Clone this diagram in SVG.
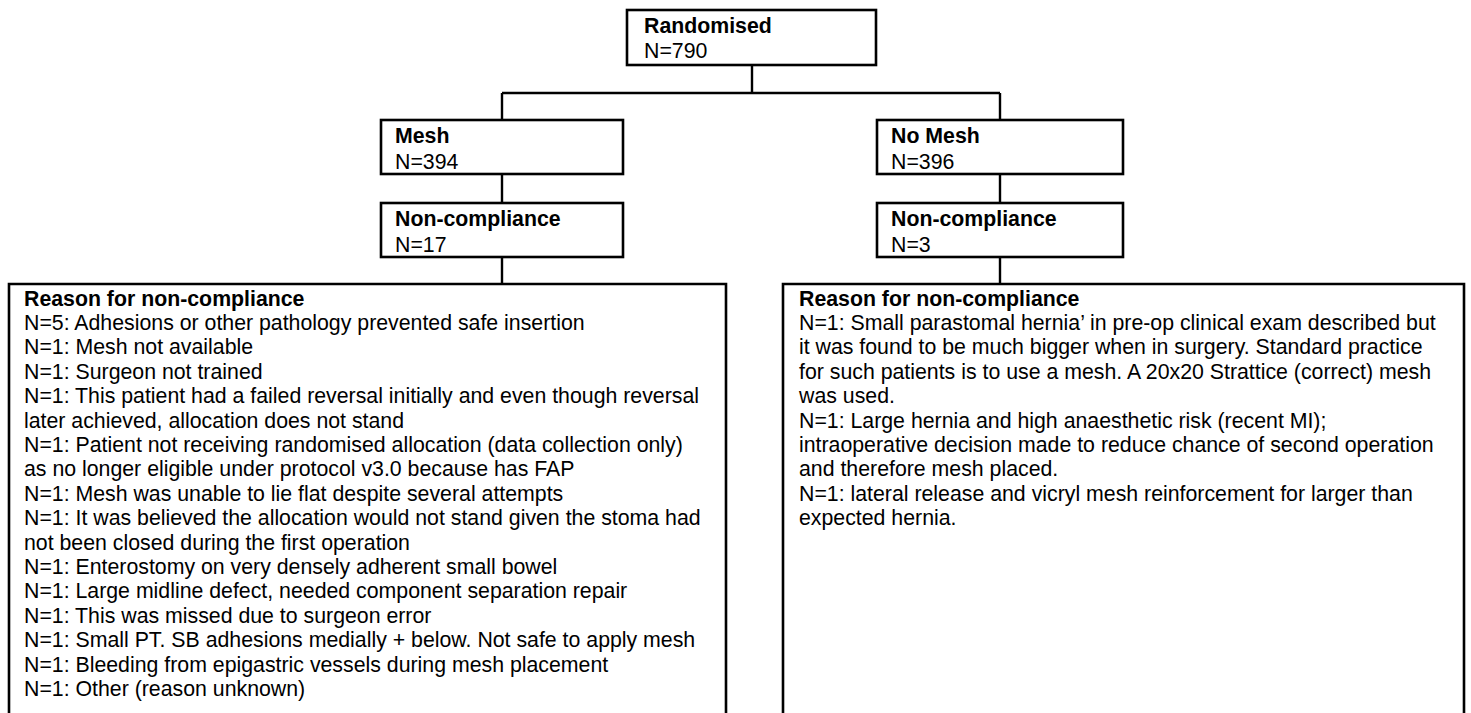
<svg xmlns="http://www.w3.org/2000/svg" width="1471" height="713" viewBox="0 0 1471 713">
<style>
.box{fill:#fff;stroke:#000;stroke-width:2.6}
.con{fill:none;stroke:#000;stroke-width:2.4}
text{font-family:"Liberation Sans",Arial,sans-serif;font-size:21.3px;fill:#000}
.b{font-weight:bold}
</style>
<rect width="1471" height="713" fill="#fff"/>
<g id="connectors">
<path class="con" d="M752 65V93M502 93H1000M502 93V120M1000 93V120M502 174V203M1000 174V203M502 257V284M1000 257V284"/>
</g>
<g id="randomised">
<rect class="box" x="627" y="10" width="249" height="55"/>
<text x="644" y="32.5" class="b">Randomised</text>
<text x="644" y="58">N=790</text>
</g>
<g id="mesh">
<rect class="box" x="381" y="120" width="242" height="54"/>
<text x="395" y="143" class="b">Mesh</text>
<text x="395" y="168.5">N=394</text>
</g>
<g id="nomesh">
<rect class="box" x="877" y="120" width="246" height="54"/>
<text x="891" y="143" class="b">No Mesh</text>
<text x="891" y="168.5">N=396</text>
</g>
<g id="mesh-noncompliance">
<rect class="box" x="381" y="203" width="242" height="54"/>
<text x="395" y="226" class="b">Non-compliance</text>
<text x="395" y="251.5">N=17</text>
</g>
<g id="nomesh-noncompliance">
<rect class="box" x="877" y="203" width="246" height="54"/>
<text x="891" y="226" class="b">Non-compliance</text>
<text x="891" y="251.5">N=3</text>
</g>
<g id="mesh-reasons">
<path class="box" d="M9 720V284H726V720"/>
<text x="24" y="305.5" class="b">Reason for non-compliance</text>
<text x="24" y="329.9">N=5: Adhesions or other pathology prevented safe insertion</text>
<text x="24" y="354.3">N=1: Mesh not available</text>
<text x="24" y="378.7">N=1: Surgeon not trained</text>
<text x="24" y="403.1">N=1: This patient had a failed reversal initially and even though reversal</text>
<text x="24" y="427.5">later achieved, allocation does not stand</text>
<text x="24" y="451.9">N=1: Patient not receiving randomised allocation (data collection only)</text>
<text x="24" y="476.3">as no longer eligible under protocol v3.0 because has FAP</text>
<text x="24" y="500.7">N=1: Mesh was unable to lie flat despite several attempts</text>
<text x="24" y="525.1">N=1: It was believed the allocation would not stand given the stoma had</text>
<text x="24" y="549.5">not been closed during the first operation</text>
<text x="24" y="573.9">N=1: Enterostomy on very densely adherent small bowel</text>
<text x="24" y="598.3">N=1: Large midline defect, needed component separation repair</text>
<text x="24" y="622.7">N=1: This was missed due to surgeon error</text>
<text x="24" y="647.1">N=1: Small PT. SB adhesions medially + below. Not safe to apply mesh</text>
<text x="24" y="671.5">N=1: Bleeding from epigastric vessels during mesh placement</text>
<text x="24" y="695.9">N=1: Other (reason unknown)</text>
</g>
<g id="nomesh-reasons">
<path class="box" d="M783 720V284H1464V720"/>
<text x="799" y="305.5" class="b">Reason for non-compliance</text>
<text x="799" y="329.9">N=1: Small parastomal hernia’ in pre-op clinical exam described but</text>
<text x="799" y="354.3">it was found to be much bigger when in surgery. Standard practice</text>
<text x="799" y="378.7">for such patients is to use a mesh. A 20x20 Strattice (correct) mesh</text>
<text x="799" y="403.1">was used.</text>
<text x="799" y="427.5">N=1: Large hernia and high anaesthetic risk (recent MI);</text>
<text x="799" y="451.9">intraoperative decision made to reduce chance of second operation</text>
<text x="799" y="476.3">and therefore mesh placed.</text>
<text x="799" y="500.7">N=1: lateral release and vicryl mesh reinforcement for larger than</text>
<text x="799" y="525.1">expected hernia.</text>
</g>
</svg>
